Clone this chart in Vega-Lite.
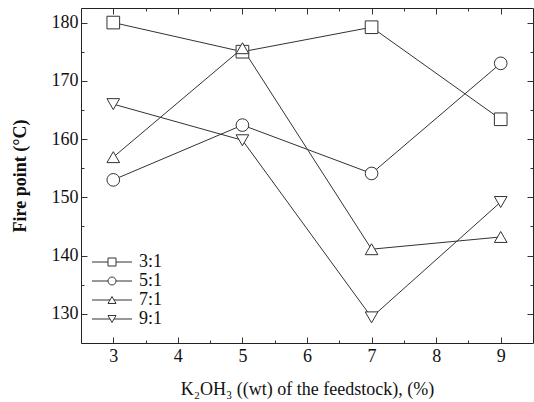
{
  "$schema": "https://vega.github.io/schema/vega-lite/v6.json",
  "width": 452,
  "height": 335,
  "autosize": {"type": "none"},
  "padding": {"left": 81, "top": 8, "right": 1, "bottom": 59},
  "background": "white",
  "config": {
    "font": "Liberation Serif",
    "view": {"stroke": "#222", "strokeWidth": 1},
    "axis": {"domain": false, "grid": false, "labelFont": "Liberation Serif", "labelFontSize": 18, "labelColor": "#111", "tickColor": "#333", "titleFont": "Liberation Serif", "titleColor": "#111"},
    "legend": {"labelFont": "Liberation Serif", "labelFontSize": 18, "labelColor": "#111"}
  },
  "data": {
    "values": [
      {"ratio": "3:1", "koh": 3, "fire": 180},
      {"ratio": "3:1", "koh": 5, "fire": 175},
      {"ratio": "3:1", "koh": 7, "fire": 179.2},
      {"ratio": "3:1", "koh": 9, "fire": 163.4},
      {"ratio": "5:1", "koh": 3, "fire": 153},
      {"ratio": "5:1", "koh": 5, "fire": 162.4},
      {"ratio": "5:1", "koh": 7, "fire": 154.1},
      {"ratio": "5:1", "koh": 9, "fire": 173},
      {"ratio": "7:1", "koh": 3, "fire": 156.9},
      {"ratio": "7:1", "koh": 5, "fire": 175.6},
      {"ratio": "7:1", "koh": 7, "fire": 141.1},
      {"ratio": "7:1", "koh": 9, "fire": 143.2},
      {"ratio": "9:1", "koh": 3, "fire": 166},
      {"ratio": "9:1", "koh": 5, "fire": 159.8},
      {"ratio": "9:1", "koh": 7, "fire": 129.4},
      {"ratio": "9:1", "koh": 9, "fire": 149.2}
    ]
  },
  "resolve": {"axis": {"x": "independent", "y": "independent"}, "scale": {"shape": "independent"}},
  "layer": [
    {
      "mark": {"type": "point", "filled": false, "stroke": "#333", "strokeWidth": 1, "size": 64, "opacity": 0},
      "encoding": {
        "x": {"field": "koh", "type": "quantitative", "scale": {"domain": [2.5, 9.5], "nice": false, "zero": false}, "axis": null},
        "y": {"field": "fire", "type": "quantitative", "scale": {"domain": [125, 182.5], "nice": false, "zero": false}, "axis": null},
        "shape": {"field": "ratio", "type": "nominal",
          "scale": {"domain": ["3:1", "5:1", "7:1", "9:1"], "range": ["M-5,0H-1M1,0H5M-1,-1H1V1H-1Z", "M-5,0H-1M1,0H5M-1,0A1,1,0,1,0,1,0A1,1,0,1,0,-1,0Z", "M-5,0H-0.5M0.5,0H5M0,-0.87L1,0.87H-1Z", "M-5,0H-0.5M0.5,0H5M0,0.87L1,-0.87H-1Z"]},
          "legend": {"orient": "none", "legendX": 22, "legendY": 245, "title": null, "padding": 0, "symbolSize": 64, "labelOffset": 18, "rowPadding": 1, "symbolOpacity": 1, "symbolStrokeColor": "#333", "symbolStrokeWidth": 1}}
      }
    },
    {
      "mark": {"type": "line", "color": "#333", "strokeWidth": 1},
      "encoding": {
        "x": {"field": "koh", "type": "quantitative",
          "axis": {"orient": "bottom", "values": [3, 4, 5, 6, 7, 8, 9], "tickSize": -6, "labelPadding": 10, "title": "K₂OH₃ ((wt) of the feedstock), (%)", "titleFontSize": 18, "titleFontWeight": "normal", "titlePadding": 15}},
        "y": {"field": "fire", "type": "quantitative",
          "axis": {"orient": "left", "values": [130, 140, 150, 160, 170, 180], "tickSize": -6, "labelPadding": 9, "title": "Fire point (°C)", "titleFontSize": 18, "titleFontWeight": "bold", "titlePadding": 22}},
        "detail": {"field": "ratio", "type": "nominal"}
      }
    },
    {
      "mark": {"type": "point", "filled": true, "fill": "white", "stroke": "#333", "strokeWidth": 1, "size": 160, "opacity": 1},
      "encoding": {
        "x": {"field": "koh", "type": "quantitative", "axis": {"orient": "top", "values": [3, 4, 5, 6, 7, 8, 9], "tickSize": -6, "labels": false, "title": null}},
        "y": {"field": "fire", "type": "quantitative", "axis": {"orient": "right", "values": [130, 140, 150, 160, 170, 180], "tickSize": -6, "labels": false, "title": null}},
        "shape": {"field": "ratio", "type": "nominal",
          "scale": {"domain": ["3:1", "5:1", "7:1", "9:1"], "range": ["square", "circle", "triangle-up", "triangle-down"]},
          "legend": null}
      }
    },
    {
      "mark": {"type": "point", "opacity": 0},
      "encoding": {
        "x": {"field": "koh", "type": "quantitative", "axis": {"orient": "bottom", "values": [3.5, 4.5, 5.5, 6.5, 7.5, 8.5], "tickSize": -3, "labels": false, "title": null}},
        "y": {"field": "fire", "type": "quantitative", "axis": {"orient": "left", "values": [135, 145, 155, 165, 175], "tickSize": -3, "labels": false, "title": null}}
      }
    },
    {
      "mark": {"type": "point", "opacity": 0},
      "encoding": {
        "x": {"field": "koh", "type": "quantitative", "axis": {"orient": "top", "values": [3.5, 4.5, 5.5, 6.5, 7.5, 8.5], "tickSize": -3, "labels": false, "title": null}},
        "y": {"field": "fire", "type": "quantitative", "axis": {"orient": "right", "values": [135, 145, 155, 165, 175], "tickSize": -3, "labels": false, "title": null}}
      }
    }
  ]
}
